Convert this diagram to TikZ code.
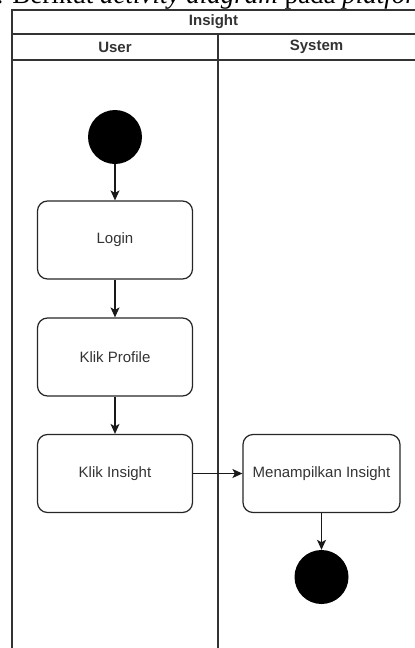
\documentclass[tikz,border=0pt]{standalone}
\usepackage{fontspec}
\setmainfont{Liberation Sans}
\newfontfamily\capserif{Liberation Serif}
\usetikzlibrary{arrows.meta}
\begin{document}
\begin{tikzpicture}[x=1pt,y=-1pt,
  lane/.style={line width=1.3pt, draw=black!80},
  act/.style={draw=black!85, line width=1.2pt, rounded corners=10pt, minimum width=155pt, minimum height=78pt, inner sep=0pt, font=\fontsize{15}{18}\selectfont, text=black!80},
  dot/.style={circle, fill=black, minimum size=54pt, inner sep=0pt},
  flow/.style={line width=1.2pt, draw=black!90, -{Stealth[length=10pt,width=9pt,inset=2.5pt]}},
  hdr/.style={font=\bfseries\fontsize{15}{18}\selectfont, text=black!80, inner sep=0pt}]
\useasboundingbox (0,0) rectangle (415,648);
\node[anchor=base west, inner sep=0pt, font=\capserif\fontsize{27}{32}\selectfont] (cap) at (-15.5,3) {a. Berikut \textit{activity diagram} pada \textit{platform}};
% swimlane frame
\draw[lane] (12,660) -- (12,10) -- (430,10);
\draw[lane] (12,34) -- (430,34);
\draw[lane] (12,60) -- (430,60);
\draw[lane] (218,34) -- (218,660);
\node[hdr] (title) at (213.5,22) {Insight};
\node[hdr] (user) at (115,47) {User};
\node[hdr] (sys) at (316.5,47) {System};
% nodes
\node[dot] (start) at (115,137) {};
\node[act] (login) at (115,240) {Login};
\node[act] (profile) at (115,357) {Klik Profile};
\node[act] (kinsight) at (115,473.5) {Klik Insight};
\node[act, minimum width=157pt] (show) at (321.5,473.5) {Menampilkan Insight};
\node[dot] (end) at (321.5,577) {};
% flows
\draw[flow] (start) -- (login);
\draw[flow] (login) -- (profile);
\draw[flow] (profile) -- (kinsight);
\draw[flow] (kinsight) -- (show);
\draw[flow] (show) -- (end);
\end{tikzpicture}
\end{document}
